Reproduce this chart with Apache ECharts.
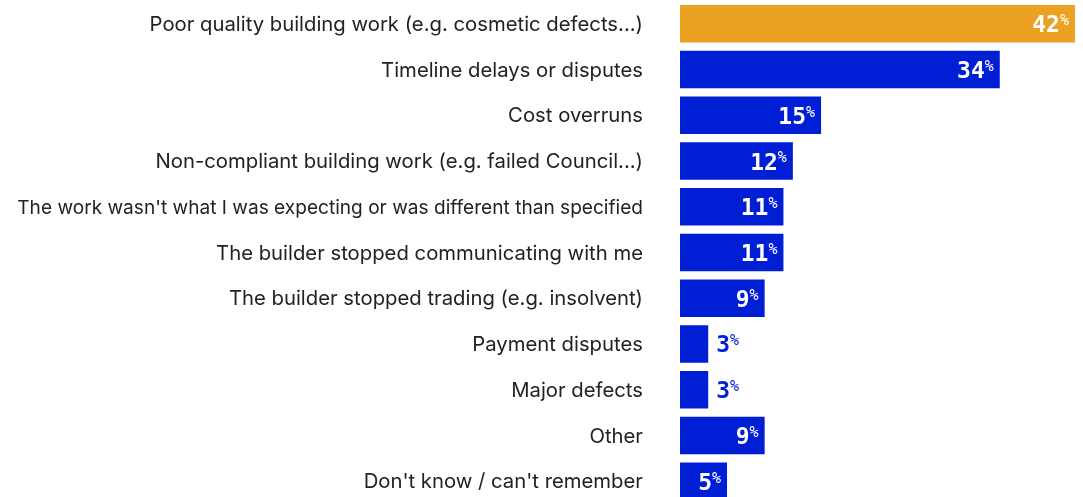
<!DOCTYPE html>
<html>
<head>
<meta charset="utf-8">
<script src="https://cdn.jsdelivr.net/npm/echarts@6/dist/echarts.min.js"></script>
<style>
  html, body { margin: 0; padding: 0; background: #fff; overflow: hidden; }
  #chart { width: 1083px; height: 506px; }
</style>
</head>
<body>
<div id="chart"></div>
<script>
// Reported building issues, share of respondents (%)
const categories = [
  "Poor quality building work (e.g. cosmetic defects...)",
  "Timeline delays or disputes",
  "Cost overruns",
  "Non-compliant building work (e.g. failed Council...)",
  "The work wasn't what I was expecting or was different than specified",
  "The builder stopped communicating with me",
  "The builder stopped trading (e.g. insolvent)",
  "Payment disputes",
  "Major defects",
  "Other",
  "Don't know / can't remember"
];
const values = [42, 34, 15, 12, 11, 11, 9, 3, 3, 9, 5];
const highlightIndex = 0;

const BLUE = '#001ed4';
const ORANGE = '#eba122';
const LABEL_FONT = 'Inter';

// the longest category is set a little tighter so it fits the left margin
const longestLabel = categories.reduce((a, b) => (b.length > a.length ? b : a));

function labelRich(color) {
  return {
    v: { fontFamily: 'DejaVu Sans Mono', fontWeight: 'bold', fontSize: 23, color: color, lineHeight: 24, verticalAlign: 'bottom' },
    p: { fontFamily: 'DejaVu Sans Mono', fontSize: 15, color: color, lineHeight: 24, verticalAlign: 'top' }
  };
}

const seriesData = values.map((v, i) => {
  const outside = v < 4;
  return {
    value: v,
    itemStyle: { color: i === highlightIndex ? ORANGE : BLUE },
    label: outside
      ? { position: 'right', distance: 8, rich: labelRich(BLUE) }
      : { position: 'insideRight', distance: 6, rich: labelRich('#ffffff') }
  };
});

const chart = echarts.init(document.getElementById('chart'), null, { renderer: 'canvas' });
chart.setOption({
  animation: false,
  grid: { left: 680, right: 8, top: 1, height: 503, containLabel: false },
  xAxis: {
    type: 'value', min: 0, max: 42, show: false
  },
  yAxis: {
    type: 'category',
    data: categories,
    inverse: true,
    axisLine: { show: false },
    axisTick: { show: false },
    axisLabel: {
      margin: 37,
      fontFamily: LABEL_FONT,
      fontSize: 20.3,
      color: '#222222',
      padding: [2, 0, 0, 0],
      formatter: val => (val === longestLabel ? '{s|' + val + '}' : val),
      rich: {
        s: { fontFamily: LABEL_FONT, fontSize: 19.1, color: '#222222' }
      }
    }
  },
  series: [{
    type: 'bar',
    data: seriesData,
    barCategoryGap: '18%',
    label: {
      show: true,
      offset: [0, 2],
      formatter: p => '{v|' + p.value + '}{p|%}'
    }
  }]
});
</script>
</body>
</html>
